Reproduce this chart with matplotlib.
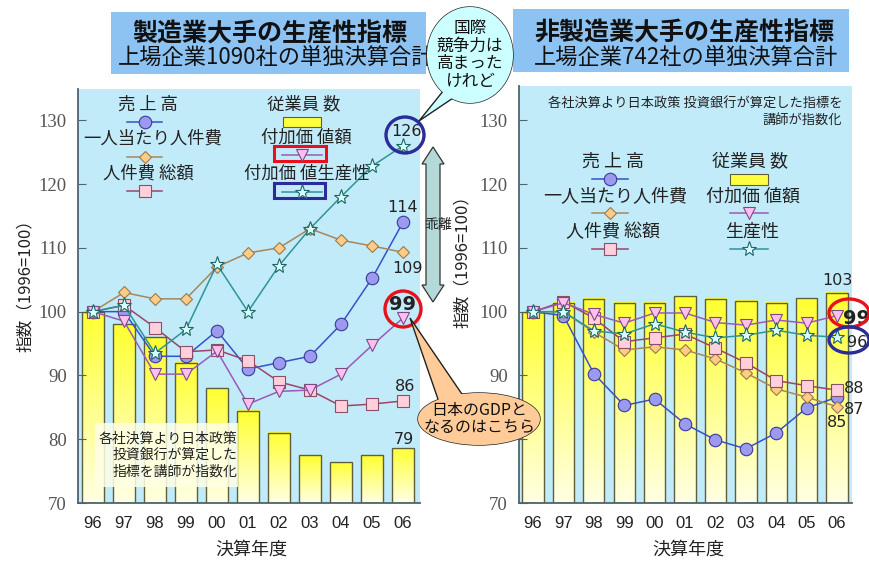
import numpy as np
import matplotlib
matplotlib.use('Agg')
import matplotlib.pyplot as plt
from matplotlib.patches import Rectangle, Ellipse, Polygon
from matplotlib.lines import Line2D
from matplotlib.colors import LinearSegmentedColormap

plt.rcParams['font.family'] = ['Noto Sans CJK JP', 'DejaVu Sans']

# ---- data (index, 1996 = 100) ----
years = ['96', '97', '98', '99', '00', '01', '02', '03', '04', '05', '06']
yticks = [70, 80, 90, 100, 110, 120, 130]

mfg_emp = [100, 98, 96, 92, 88, 84.5, 81, 77.5, 76.5, 77.5, 78.7]
mfg_sales = [100, 100, 93, 93, 97, 91, 92, 93, 98, 105.2, 114]
mfg_wage = [100, 103, 102, 102, 107, 109.2, 110, 113, 111.2, 110.3, 109.3]
mfg_labor = [100, 101, 97.5, 93.7, 94, 92.3, 89, 87.7, 85.2, 85.5, 86]
mfg_va = [100, 98.5, 90.2, 90.2, 93.8, 85.5, 87.5, 87.7, 90.2, 94.7, 99]
mfg_prod = [100, 101, 93.5, 97.2, 107.4, 100, 107.2, 113, 118, 122.8, 126]

non_emp = [100, 101.4, 102, 101.4, 101.4, 102.5, 102, 101.7, 101.4, 102.2, 103]
non_sales = [100, 99.4, 90.3, 85.3, 86.3, 82.4, 79.9, 78.5, 81, 84.9, 86.6]
non_wage = [100, 100, 96.8, 94, 94.5, 94, 92.6, 90.4, 87.9, 86.6, 85.1]
non_labor = [100, 101.6, 99, 95.3, 95.9, 96.5, 94.3, 92, 89.2, 88.4, 87.7]
non_va = [100, 101.4, 99.6, 98.2, 99.8, 99.8, 98.3, 97.9, 98.7, 98.2, 99.4]
non_prod = [100, 100, 97, 96.5, 98.1, 96.8, 95.9, 96.3, 97.1, 96.3, 96]

# ---- styles ----
W, H = 869, 563
SKY = '#C2EBFA'
st_sales = dict(color='#3552C8', marker='o', mfc='#9C9AEE', mec='#3A3A9A', ms=9)
st_wage = dict(color='#A8865A', marker='D', mfc='#FFCC88', mec='#9A7A4A', ms=6.5)
st_labor = dict(color='#9E4466', marker='s', mfc='#FFD0DC', mec='#8A5066', ms=8.5)
st_va = dict(color='#9A5AB8', marker='v', mfc='#FFBFEE', mec='#7A4A88', ms=9)
st_prod = dict(color='#2E9494', marker='*', mfc='#D8FFFF', mec='#1E6464', ms=11)

bar_cmap = LinearSegmentedColormap.from_list('bar', ['#FFFFE4', '#FFFF30'])


def fx(x):
    return x / W


def fy(y):
    return 1 - y / H


fig = plt.figure(figsize=(8.69, 5.63), dpi=100)


def make_axes(left, right, top, xlo, xhi, yhi, ylabels):
    ax = fig.add_axes([fx(left), fy(503), (right - left) / W, (503 - top) / H])
    ax.set_facecolor(SKY)
    for s in ['top', 'right']:
        ax.spines[s].set_visible(False)
    for s in ['left', 'bottom']:
        ax.spines[s].set_color('#4E6470')
        ax.spines[s].set_linewidth(1.3)
    ax.set_xlim(xlo, xhi)
    ax.set_ylim(70, yhi)
    ax.set_yticks(yticks)
    ax.set_yticklabels(ylabels, fontfamily='Liberation Serif',
                       fontsize=13.5, color='#555555')
    ax.tick_params(axis='y', direction='in', length=6, color='#4E6470', pad=8)
    ax.set_xticks(range(len(years)))
    ax.set_xticklabels(years, fontsize=12, fontfamily='Liberation Sans',
                       color='#222222')
    ax.tick_params(axis='x', length=0, pad=9)
    return ax


def draw_panel(ax, emp, series, bw):
    x = np.arange(len(years))
    grad = np.linspace(0, 1, 256).reshape(-1, 1)
    for i, v in enumerate(emp):
        ax.imshow(grad, extent=[i - bw / 2, i + bw / 2, 70, v], origin='lower',
                  cmap=bar_cmap, aspect='auto', zorder=1)
    ax.bar(x, np.array(emp) - 70, bottom=70, width=bw, fill=False,
           edgecolor='#5E5E3A', lw=1, zorder=2)
    for k, (ys, st) in enumerate(series):
        ax.plot(x, ys, color=st['color'], lw=1.1, marker=st['marker'], ms=st['ms'],
                mfc=st['mfc'], mec=st['mec'], mew=0.8, zorder=3 + k)


labels_all = [str(v) for v in yticks]
# the 80 label of the right panel sits under the GDP speech bubble
labels_right = [s if s != '80' else '' for s in labels_all]
axL = make_axes(78, 420, 89, -0.484, 10.55, 134.9, labels_all)
axR = make_axes(519, 852, 86, -0.46, 10.49, 135.4, labels_right)

draw_panel(axL, mfg_emp, [(mfg_sales, st_sales), (mfg_wage, st_wage),
                          (mfg_labor, st_labor), (mfg_va, st_va),
                          (mfg_prod, st_prod)], 0.72)
draw_panel(axR, non_emp, [(non_sales, st_sales), (non_wage, st_wage),
                          (non_labor, st_labor), (non_va, st_va),
                          (non_prod, st_prod)], 0.70)
axL.set_xlim(-0.484, 10.55)
axR.set_xlim(-0.46, 10.49)
axL.set_ylim(70, 134.9)
axR.set_ylim(70, 135.4)


def lab(ax, i, v, s, dx, dy, size=11.5, bold=False):
    ax.annotate(s, (i, v), xytext=(dx * 0.72, dy * 0.72), textcoords='offset points',
                ha='center', va='center', fontsize=size, color='#222222',
                fontweight='bold' if bold else 'normal', fontfamily='DejaVu Sans',
                zorder=10, annotation_clip=False)


lab(axL, 10, mfg_prod[10], '126', 4, 14)
lab(axL, 10, mfg_sales[10], '114', 0, 15)
lab(axL, 10, mfg_wage[10], '109', 5, -16)
lab(axL, 10, mfg_va[10], '99', 0, 14, size=14, bold=True)
lab(axL, 10, mfg_labor[10], '86', 2, 14)
lab(axL, 10, mfg_emp[10], '79', 1, 8)

lab(axR, 10, non_emp[10], '103', 0, 12)
lab(axR, 10, non_va[10], '99', 19, -3, size=14, bold=True)
lab(axR, 10, non_prod[10], '96', 20, -5)
lab(axR, 10, non_labor[10], '88', 17, 2)
lab(axR, 10, non_sales[10], '87', 17, -12)
lab(axR, 10, non_wage[10], '85', 0, -16)

# ---- titles ----
fig.add_artist(Rectangle((fx(111), fy(74)), 315 / W, 62 / H, fc='#8CC3F2', ec='none'))
fig.add_artist(Rectangle((fx(513), fy(72)), 336 / W, 63 / H, fc='#8CC3F2', ec='none'))
fig.text(fx(270), fy(34), '製造業大手の生産性指標', ha='center', va='center',
         fontsize=18, fontweight='bold', color='#111111')
fig.text(fx(276), fy(58), '上場企業1090社の単独決算合計', ha='center', va='center',
         fontsize=16, color='#111111')
fig.text(fx(684), fy(33), '非製造業大手の生産性指標', ha='center', va='center',
         fontsize=18, fontweight='bold', color='#111111')
fig.text(fx(686), fy(58), '上場企業742社の単独決算合計', ha='center', va='center',
         fontsize=16, color='#111111')

# ---- axis labels ----
fig.text(fx(25), fy(282), '指数（1996=100）', rotation=90, ha='center', va='center',
         fontsize=12, color='#222222')
fig.text(fx(462), fy(258), '指数（1996=100）', rotation=90, ha='center', va='center',
         fontsize=12, color='#222222')
fig.text(fx(251), fy(550), '決算年度', ha='center', va='center', fontsize=13, color='#222222')
fig.text(fx(688), fy(550), '決算年度', ha='center', va='center', fontsize=13, color='#222222')


# ---- in-plot legends ----
def sample(x0, x1, y, st):
    fig.add_artist(Line2D([fx(x0), fx(x1)], [fy(y), fy(y)], color=st['color'], lw=1.1))
    fig.add_artist(Line2D([fx((x0 + x1) / 2)], [fy(y)], marker=st['marker'],
                          ms=st['ms'], mfc=st['mfc'], mec=st['mec'], mew=0.8, lw=0))


def ybox(x0, y0, w, h):
    fig.add_artist(Rectangle((fx(x0), fy(y0 + h)), w / W, h / H, fc='#FFFF40',
                             ec='#5E5E3A', lw=0.8))


def ltext(x, y, s, size):
    fig.text(fx(x), fy(y), s, ha='center', va='center', fontsize=size, color='#222222')


ltext(148, 105, '売 上 高', 12.5)
sample(127, 162, 122, st_sales)
ltext(153, 139, '一人当たり人件費', 12.5)
sample(127, 162, 157, st_wage)
ltext(148, 174, '人件費 総額', 12.5)
sample(127, 162, 191, st_labor)
ltext(304, 104, '従業員 数', 12.5)
ybox(283, 117, 38, 10)
ltext(306, 138, '付加価 値額', 12.5)
sample(282, 322, 155, st_va)
ltext(307, 174, '付加価 値生産性', 12.5)
sample(282, 322, 192, st_prod)
fig.add_artist(Rectangle((fx(274), fy(161)), 52 / W, 15 / H, fill=False, ec='#E8101A', lw=2.2))
fig.add_artist(Rectangle((fx(274), fy(198)), 51 / W, 15 / H, fill=False, ec='#2B2B99', lw=2.2))

ltext(613, 162, '売 上 高', 13)
sample(592, 628, 179, st_sales)
ltext(615, 197, '一人当たり人件費', 13)
sample(592, 628, 213, st_wage)
ltext(613, 232, '人件費 総額', 13)
sample(592, 628, 249, st_labor)
ltext(750, 162, '従業員 数', 13)
ybox(730, 174, 38, 11)
ltext(753, 197, '付加価 値額', 13)
sample(730, 768, 213, st_va)
ltext(752, 232, '生産性', 13)
sample(730, 768, 249, st_prod)

fig.text(fx(842), fy(112), '各社決算より日本政策 投資銀行が算定した指標を\n講師が指数化',
         ha='right', va='center', ma='right', fontsize=9.5, color='#222222',
         linespacing=1.25)

# note box in left panel
fig.add_artist(Rectangle((fx(95), fy(487)), 143 / W, 64 / H, fc='#FFFFE6', ec='none',
                         alpha=0.85))
fig.text(fx(237), fy(455), '各社決算より日本政策\n投資銀行が算定した\n指標を講師が指数化',
         ha='right', va='center', ma='right', fontsize=10, color='#222222',
         linespacing=1.2)


# ---- highlight ellipses ----
def ring(cx, cy, w, h, color):
    fig.add_artist(Ellipse((fx(cx), fy(cy)), w / W, h / H, fill=False, ec=color, lw=2.4,
                           zorder=5))


ring(405, 135, 38, 36, '#2B2B99')
ring(403, 309, 36, 36, '#E8101A')
ring(849, 313, 40, 28, '#E8101A')
ring(849, 340, 40, 26, '#2B2B99')

# ---- divergence arrow ----
arrow_pts = [(433, 147), (444, 164), (440, 164), (440, 285), (444, 285), (433, 302),
             (422, 285), (426, 285), (426, 164), (422, 164)]
fig.add_artist(Polygon([(fx(a), fy(b)) for a, b in arrow_pts], closed=True,
                       fc='#B4D9D9', ec='#333333', lw=0.9))
fig.text(fx(438), fy(225), '乖離', ha='center', va='center', fontsize=10,
         color='#222222')


# ---- speech bubbles ----
def bubble(cx, cy, w, h, tail, fc, text, size):
    e1 = Ellipse((fx(cx), fy(cy)), w / W, h / H, fc=fc, ec='#222222', lw=1, zorder=6)
    t = Polygon([(fx(a), fy(b)) for a, b in tail], closed=True, fc=fc, ec='#222222',
                lw=1, zorder=6.1)
    e2 = Ellipse((fx(cx), fy(cy)), w / W, h / H, fc=fc, ec='none', zorder=6.2)
    for a in (e1, t, e2):
        fig.add_artist(a)
    fig.text(fx(cx), fy(cy), text, ha='center', va='center', ma='center',
             fontsize=size, color='#111111', zorder=7, linespacing=1.05)


bubble(470, 55, 86, 96, [(448, 85), (419, 121), (462, 92)], '#CCFFFF',
       '国際\n競争力は\n高まった\nけれど', 12)
bubble(479, 419, 122, 52, [(440, 405), (410, 318), (466, 400)], '#FFCC99',
       '日本のGDPと\nなるのはこちら', 11.5)

fig.savefig('out.png', dpi=100)
